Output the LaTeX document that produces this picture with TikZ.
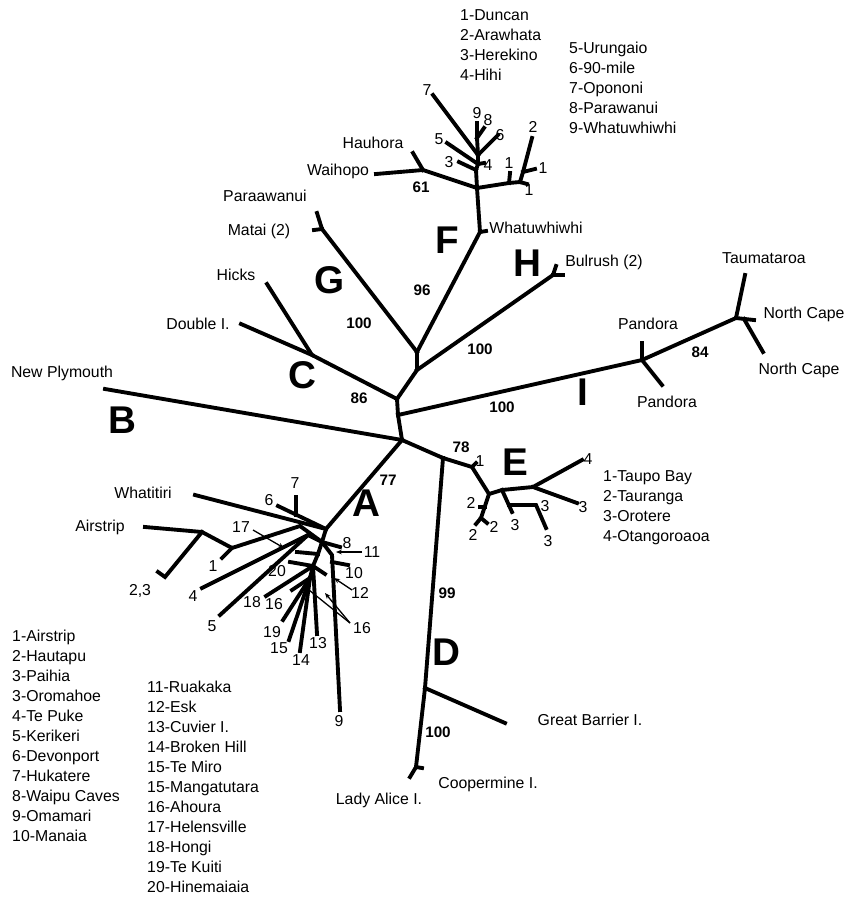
\documentclass[tikz,border=0pt]{standalone}
\usepackage{fontspec}
\setmainfont{Liberation Sans}
\usetikzlibrary{arrows.meta}

\begin{document}
\begin{tikzpicture}[x=0.03cm,y=-0.03cm,>={Stealth[length=5pt,width=4pt]},
 font=\fontsize{13.5}{16}\selectfont,
 br/.style={line width=3.3pt,line cap=rect,line join=miter},
 ld/.style={line width=1.1pt},
 bs/.style={font=\fontsize{13}{15}\selectfont\bfseries},
 cl/.style={font=\fontsize{33}{36}\selectfont\bfseries},
 lg/.style={align=left,anchor=west,inner sep=0pt,font=\fontsize{13.5}{17.1}\selectfont}]
\useasboundingbox (0,0) rectangle (844,898);
% backbone
\coordinate (r1) at (402,440); \coordinate (r2) at (398,415);
\coordinate (r3) at (397,399); \coordinate (r4) at (417,370);
\coordinate (r5) at (417,352);
\draw[br] (r1)--(r2)--(r3)--(r4)--(r5);
% B, C, G
\coordinate (np) at (105,389); \draw[br] (r1)--(np);
\coordinate (c0) at (312,355); \coordinate (hk) at (267,284); \coordinate (di) at (241,324);
\draw[br] (r3)--(c0)--(hk); \draw[br] (c0)--(di);
\coordinate (g0) at (322,229); \coordinate (pw) at (317,213); \coordinate (mt) at (314,230);
\draw[br] (r5)--(g0)--(pw); \draw[br] (g0)--(mt);
% F
\coordinate (f0) at (480,232); \coordinate (fw) at (486,231); \coordinate (f1) at (477,188);
\draw[br] (r5)--(f0)--(f1); \draw[br] (f0)--(fw);
\coordinate (f2) at (423,170); \coordinate (wp) at (376,174); \coordinate (hh) at (413,153);
\draw[br] (f1)--(f2)--(wp); \draw[br] (f2)--(hh);
\coordinate (fa) at (509,183); \coordinate (fa1) at (510,173);
\coordinate (fb) at (520,182); \coordinate (fb2) at (532,138);
\coordinate (fbt) at (523,172); \coordinate (fb1) at (535,169); \coordinate (fc) at (527,184);
\draw[br] (f1)--(fa)--(fb)--(fc); \draw[br] (fa)--(fa1);
\draw[br] (fb)--(fbt)--(fb2); \draw[br] (fbt)--(fb1);
\coordinate (fu1) at (476,170); \coordinate (t3) at (459,162);
\coordinate (fu2) at (478,164); \coordinate (t4) at (484,163); \coordinate (t5) at (447,143);
\coordinate (fu3) at (478,155); \coordinate (t7) at (433,95); \coordinate (t6) at (498,135);
\coordinate (fu4) at (477,138); \coordinate (t8) at (484,128); \coordinate (t9) at (477,123);
\draw[br] (f1)--(fu1)--(fu2)--(fu3)--(fu4)--(t9);
\draw[br] (fu1)--(t3); \draw[br] (fu2)--(t4); \draw[br] (fu2)--(t5);
\draw[br] (fu3)--(t7); \draw[br] (fu3)--(t6); \draw[br] (fu4)--(t8);
% H, I
\coordinate (h0) at (553,275); \coordinate (h1) at (556,266); \coordinate (h2) at (563,275);
\draw[br] (r4)--(h0)--(h1); \draw[br] (h0)--(h2);
\coordinate (i0) at (642,360); \coordinate (pa1) at (642,343); \coordinate (pa2) at (662,385);
\coordinate (i1) at (736,318); \coordinate (tm) at (745,275);
\coordinate (nc1) at (754,320); \coordinate (i2) at (744,319); \coordinate (nc2) at (763,352);
\draw[br] (r2)--(i0)--(i1)--(tm); \draw[br] (pa1)--(i0)--(pa2);
\draw[br] (i1)--(nc1); \draw[br] (i2)--(nc2);
% D, E
\coordinate (de) at (443,458); \draw[br] (r1)--(de);
\coordinate (d0) at (425,688); \coordinate (gb) at (505,723);
\coordinate (d1) at (416,767); \coordinate (cp1) at (410,777); \coordinate (cp2) at (422,768);
\draw[br] (de)--(d0)--(d1)--(cp1); \draw[br] (d0)--(gb); \draw[br] (d1)--(cp2);
\coordinate (e1) at (472,467); \coordinate (e1t) at (476,463);
\coordinate (e2) at (489,494); \coordinate (e2a) at (485,507); \coordinate (e2s) at (480,507);
\coordinate (e2b) at (481,518); \coordinate (e2l) at (476,524); \coordinate (e2r) at (487,523);
\coordinate (e3) at (502,490); \coordinate (e3d) at (512,512); \coordinate (e3m) at (509,505);
\coordinate (e5) at (536,505); \coordinate (e5t) at (546,528);
\coordinate (e4) at (533,487); \coordinate (t4a) at (582,460); \coordinate (t4b) at (577,503);
\draw[br] (de)--(e1)--(e2)--(e3)--(e4)--(t4a); \draw[br] (e1)--(e1t);
\draw[br] (e2)--(e2b)--(e2l); \draw[br] (e2b)--(e2r); \draw[br] (e2a)--(e2s);
\draw[br] (e3)--(e3d); \draw[br] (e3m)--(e5)--(e5t); \draw[br] (e4)--(t4b);
% A
\coordinate (a0) at (326,529); \coordinate (a1) at (322,542);
\coordinate (wt) at (195,495); \coordinate (t6a) at (278,506);
\coordinate (a7) at (296,515); \coordinate (t7a) at (296,497);
\draw[br] (r1)--(a0)--(a1); \draw[br] (a0)--(wt); \draw[br] (a0)--(t6a); \draw[br] (a7)--(t7a);
\coordinate (as) at (202,532); \coordinate (air) at (145,527); \coordinate (ab) at (232,548);
\coordinate (t1a) at (222,558); \coordinate (ac) at (300,526);
\coordinate (t23) at (165,577); \coordinate (t23a) at (158,572);
\draw[br] (a1)--(ac)--(ab)--(as)--(air); \draw[br] (ab)--(t1a);
\draw[br] (as)--(t23)--(t23a);
\coordinate (a4) at (308,535); \coordinate (t4x) at (202,588); \coordinate (t5x) at (220,615);
\draw[br] (a1)--(a4)--(t4x); \draw[br] (a4)--(t5x);
\coordinate (a2) at (318,554); \coordinate (a3) at (313,566); \coordinate (a5) at (310,578);
\coordinate (t8x) at (340,547); \coordinate (a9) at (332,555); \coordinate (t9x) at (340,710);
\coordinate (a10) at (332,562); \coordinate (t10) at (348,565);
\draw[br] (a1)--(a2)--(a3)--(a5); \draw[br] (a1)--(t8x);
\draw[br] (a1)--(a9)--(t9x); \draw[br] (a10)--(t10);
\coordinate (s1) at (297,552); \coordinate (s20) at (290,562); \coordinate (s3) at (325,574);
\coordinate (t18) at (266,596); \coordinate (t13) at (317,634);
\draw[br] (a2)--(s1); \draw[br] (a3)--(s20); \draw[br] (a3)--(s3);
\draw[br] (a3)--(t18); \draw[br] (a3)--(t13);
\coordinate (t19) at (283,620); \coordinate (t15) at (289,640);
\coordinate (t14) at (300,651); \coordinate (s16) at (292,590);
\draw[br] (a5)--(t19); \draw[br] (a5)--(t15); \draw[br] (a5)--(t14); \draw[br] (a5)--(s16);
% leaders
\coordinate (l17) at (253,530); \coordinate (p17) at (284,548);
\coordinate (l11) at (362,552); \coordinate (p11) at (336,552);
\coordinate (l12) at (352,590); \coordinate (p12) at (334,578);
\coordinate (l16) at (350,623); \coordinate (p16) at (325,593); \coordinate (q16) at (309,590);
\draw[ld,->] (l17)--(p17); \draw[ld,->] (l11)--(p11); \draw[ld,->] (l12)--(p12);
\draw[ld,->] (l16)--(p16); \draw[ld] (l16)--(q16);
% tip labels
\node (lnp) at (62,373) {New Plymouth};
\node (lhk) at (236,275) {Hicks};
\node (ldi) at (198,324) {Double I.};
\node (lpw) at (265,196) {Paraawanui};
\node (lmt) at (259,231) {Matai (2)};
\node (lhh) at (373,143) {Hauhora};
\node (lwp) at (338,171) {Waihopo};
\node (lfw) at (536,228) {Whatuwhiwhi};
\node (lbr) at (604,262) {Bulrush (2)};
\node (lpa1) at (648,324) {Pandora};
\node (lpa2) at (667,402) {Pandora};
\node (ltm) at (764,258) {Taumataroa};
\node (lnc1) at (804,314) {North Cape};
\node (lnc2) at (799,370) {North Cape};
\node (lgb) at (590,720) {Great Barrier I.};
\node (lcp) at (488,784) {Coopermine I.};
\node (lla) at (379,800) {Lady Alice I.};
\node (lwt) at (143,493) {Whatitiri};
\node (lair) at (100,527) {Airstrip};
% numbered tips
\node (n7) at (427,90) {7}; \node (n9) at (477,113) {9}; \node (n8) at (488,120) {8};
\node (n6) at (500,135) {6}; \node (n5) at (439,139) {5}; \node (n3) at (449,162) {3};
\node (n4) at (488,165) {4}; \node (n1a) at (509,163) {1}; \node (n2) at (533,127) {2};
\node (n1b) at (543,168) {1}; \node (n1c) at (529,190) {1};
\node (e1n) at (480,461) {1}; \node (e2n1) at (471,503) {2}; \node (e2n2) at (473,535) {2};
\node (e2n3) at (494,527) {2}; \node (e3n1) at (515,525) {3}; \node (e3n2) at (545,506) {3};
\node (e3n3) at (548,541) {3}; \node (e4n) at (588,459) {4}; \node (e3n4) at (583,507) {3};
\node (m23) at (140,591) {2,3}; \node (m1) at (213,566) {1}; \node (m4) at (193,596) {4};
\node (m5) at (212,626) {5}; \node (m6) at (269,500) {6}; \node (m7) at (295,483) {7};
\node (m17) at (241,527) {17}; \node (m20) at (277,571) {20}; \node (m18) at (252,602) {18};
\node (m16a) at (274,604) {16}; \node (m19) at (272,632) {19}; \node (m15) at (279,648) {15};
\node (m14) at (301,660) {14}; \node (m13) at (318,643) {13}; \node (m9) at (339,721) {9};
\node (m8) at (347,543) {8}; \node (m11) at (372,552) {11}; \node (m10) at (354,573) {10};
\node (m12) at (360,593) {12}; \node (m16b) at (362,628) {16};
% bootstrap values
\node[bs] (b61) at (421,187) {61}; \node[bs] (b96) at (422,290) {96};
\node[bs] (b100g) at (359,323) {100}; \node[bs] (b86) at (359,398) {86};
\node[bs] (b100h) at (480,349) {100}; \node[bs] (b100i) at (502,407) {100};
\node[bs] (b78) at (461,447) {78}; \node[bs] (b84) at (700,352) {84};
\node[bs] (b77) at (388,480) {77}; \node[bs] (b99) at (447,593) {99};
\node[bs] (b100d) at (438,732) {100};
% clade letters
\node[cl] (ka) at (366,503) {A}; \node[cl] (kb) at (122,420) {B};
\node[cl] (kc) at (302,375) {C}; \node[cl] (kd) at (446,652) {D};
\node[cl] (ke) at (515,462) {E}; \node[cl] (kf) at (447,240) {F};
\node[cl] (kg) at (330,280) {G}; \node[cl] (kh) at (527,263) {H};
\node[cl] (ki) at (583,392) {I};
% legends
\node[lg] (lgf1) at (460,45) {1-Duncan\\2-Arawhata\\3-Herekino\\4-Hihi};
\node[lg] (lgf2) at (569,88) {5-Urungaio\\6-90-mile\\7-Opononi\\8-Parawanui\\9-Whatuwhiwhi};
\node[lg] (lge) at (603,508) {1-Taupo Bay\\2-Tauranga\\3-Orotere\\4-Otangoroaoa};
\node[lg] (lga1) at (12,736) {1-Airstrip\\2-Hautapu\\3-Paihia\\3-Oromahoe\\4-Te Puke\\5-Kerikeri\\6-Devonport\\7-Hukatere\\8-Waipu Caves\\9-Omamari\\10-Manaia};
\node[lg] (lga2) at (147,787) {11-Ruakaka\\12-Esk\\13-Cuvier I.\\14-Broken Hill\\15-Te Miro\\15-Mangatutara\\16-Ahoura\\17-Helensville\\18-Hongi\\19-Te Kuiti\\20-Hinemaiaia};
\end{tikzpicture}
\end{document}
